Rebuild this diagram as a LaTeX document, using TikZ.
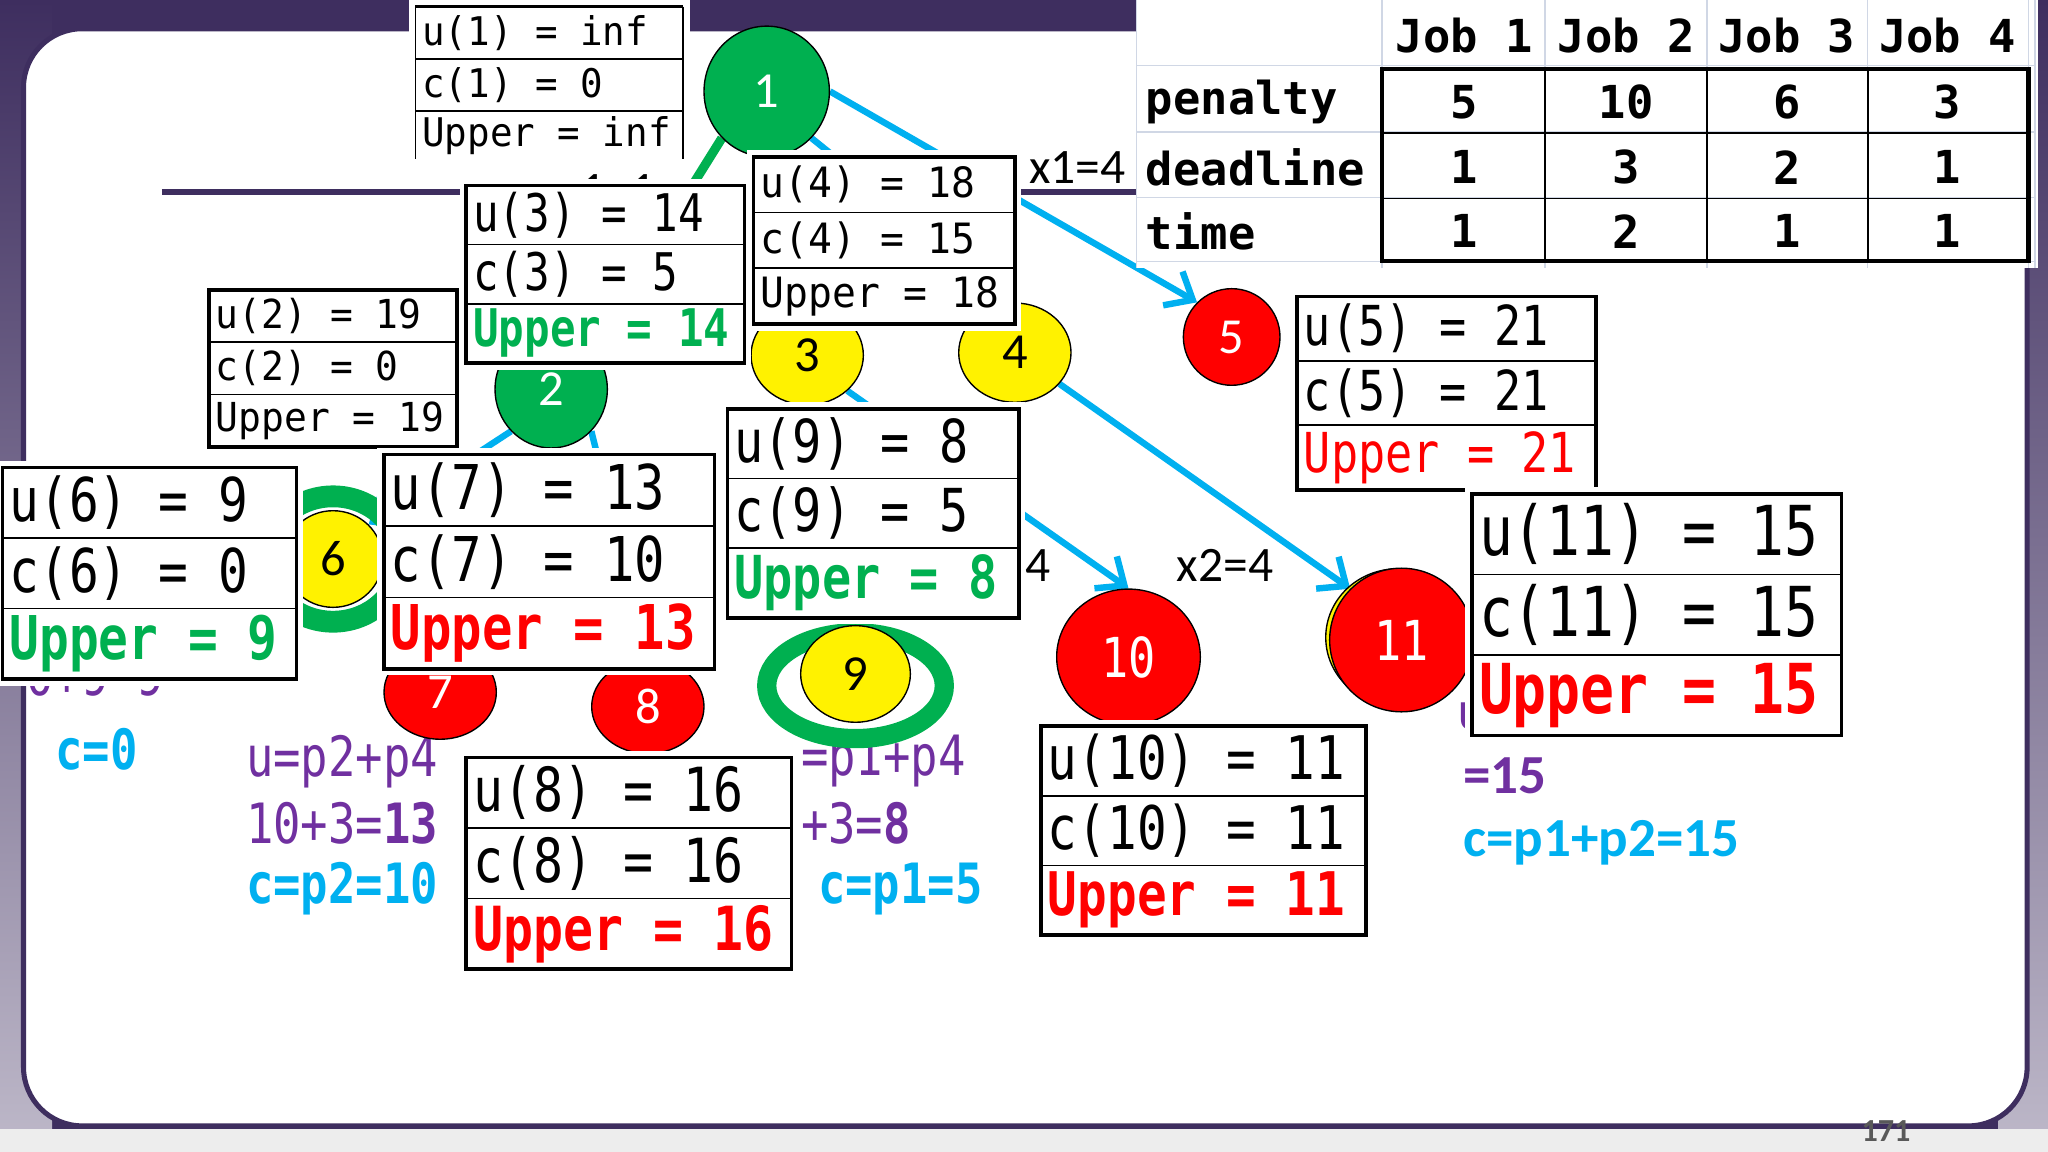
\documentclass[tikz,border=0pt]{standalone}
\usepackage{fontspec}
\setmainfont{Carlito}
\newfontfamily\cellfont[FakeStretch=0.82]{DejaVu Sans Mono}
\newfontfamily\cellwide[FakeStretch=0.95]{DejaVu Sans Mono}
\newfontfamily\jobfont{DejaVu Sans Mono}
\usepackage{tikz}
\usetikzlibrary{arrows.meta,positioning,shapes.geometric}
\definecolor{slide}{HTML}{3E2E5F}
\definecolor{okgreen}{HTML}{00B050}
\definecolor{skyblue}{HTML}{00B0F0}
\definecolor{plum}{HTML}{7030A0}
\definecolor{gridgray}{HTML}{D0D7E5}
\pgfdeclarelayer{slidelayer}
\pgfdeclarelayer{edgelayer}
\pgfdeclarelayer{nodelayer}
\pgfsetlayers{slidelayer,edgelayer,nodelayer,main}
\newcommand{\cellsize}[1]{\cellfont\fontsize{#1}{#1}\selectfont}
\newcommand{\cellwsize}[1]{\cellwide\fontsize{#1}{#1}\selectfont}
% #1 name, (#2,#3) top left, #4 width, #5 row height, #6 font, #7-#9 rows
\newcommand{\costbox}[9]{%
\fill[white] (#2-5,#3-5) rectangle (#2+#4+5,#3+3*#5+5);
\draw[rowline] (#2,#3+#5) -- (#2+#4,#3+#5) (#2,#3+2*#5) -- (#2+#4,#3+2*#5);
\draw[boxframe] (#2,#3) rectangle (#2+#4,#3+3*#5);
\node[celltext,font={#6}] (#1u) at (#2+5,#3+0.5*#5) {#7};
\node[celltext,font={#6}] (#1c) at (#2+5,#3+1.5*#5) {#8};
\node[celltext,font={#6}] (#1up) at (#2+5,#3+2.5*#5) {#9};
}
\tikzset{
job/.style={ellipse,draw=black,line width=0.6pt,inner sep=0pt,font=\fontsize{22}{22}\selectfont},
greenjob/.style={job,fill=okgreen,text=white},
yellowjob/.style={job,fill=yellow,text=black},
redjob/.style={job,fill=red,text=white},
ring/.style={ellipse,draw=okgreen,inner sep=0pt},
treeedge/.style={draw=skyblue,line width=2.8pt,-{Straight Barb[length=10pt,width=17pt]}},
pathedge/.style={treeedge,draw=okgreen,line width=4pt},
rowline/.style={line width=0.7pt},
boxframe/.style={line width=1.6pt},
celltext/.style={anchor=west,inner sep=0pt},
note/.style={anchor=west,inner sep=0pt,font=\cellsize{24.2}},
sansnote/.style={anchor=west,inner sep=0pt,font=\bfseries\fontsize{24}{24}\selectfont},
elabel/.style={inner sep=0pt,font=\fontsize{21.6}{21.6}\selectfont},
gridline/.style={draw=gridgray,line width=0.6pt},
jobtext/.style={inner sep=0pt,font=\jobfont\bfseries\fontsize{19.8}{19.8}\selectfont}
}

\begin{document}
\begin{tikzpicture}[x=0.02cm,y=-0.02cm]
\useasboundingbox (0,0) rectangle (1568,882);

% slide
\begin{pgfonlayer}{slidelayer}
\fill[slide] (0,0) rectangle (1568,882);
\shade[top color=slide,bottom color=slide!35!white] (0,0) rectangle (40,866);
\shade[top color=slide,bottom color=slide!35!white] (1530,0) rectangle (1568,866);
\fill[black!7] (0,864) rectangle (1568,882);
\draw[slide,line width=2.2pt,fill=white,rounded corners=0.9cm] (18,22) rectangle (1552,862);
\draw[slide,line width=2.8pt] (124,147) -- (870,147);
\end{pgfonlayer}

% tree
\begin{pgfonlayer}{nodelayer}
\node[ring,minimum width=2.08cm,minimum height=1.92cm,line width=9.5pt] (ring6) at (255,428) {};
\node[ring,minimum width=2.72cm,minimum height=1.62cm,line width=8.4pt] (ring9) at (655,525) {};
\node[greenjob,minimum width=1.92cm,minimum height=2cm] (n1) at (587,70) {1};
\node[greenjob,minimum width=1.72cm,minimum height=1.8cm] (n2) at (422,298) {2};
\node[yellowjob,minimum width=1.72cm,minimum height=1.52cm] (n3) at (618,272) {3};
\node[yellowjob,minimum width=1.72cm,minimum height=1.52cm] (n4) at (777,270) {4};
\node[redjob,minimum width=1.48cm,minimum height=1.48cm] (n5) at (943,258) {5};
\node[yellowjob,minimum width=1.52cm,minimum height=1.48cm] (n6) at (255,428) {6};
\node[redjob,minimum width=1.72cm,minimum height=1.44cm] (n7) at (337,530) {7};
\node[redjob,minimum width=1.72cm,minimum height=1.44cm] (n8) at (496,541) {8};
\node[yellowjob,minimum width=1.68cm,minimum height=1.48cm] (n9) at (655,516) {9};
\node[redjob,minimum width=2.2cm,minimum height=2.08cm,font=\cellsize{24}] (n10) at (864,503) {10};
\node[yellowjob,minimum width=2.2cm,minimum height=2.1cm] (n11old) at (1070,488) {};
\node[redjob,minimum width=2.2cm,minimum height=2.2cm,font=\cellsize{24}] (n11) at (1073,490) {11};
\end{pgfonlayer}

\begin{pgfonlayer}{edgelayer}
\draw[pathedge] (n1.south west) -- (n2.north east);
\draw[treeedge] (n1.south) -- (n3.north);
\draw[treeedge] (n1.south east) -- (n4.north);
\draw[treeedge] (n1.east) -- (n5.north west);
\draw[treeedge] (n2.south west) -- (n6.north east);
\draw[treeedge] (n2.south) -- (n7.north);
\draw[treeedge] (n2.south east) -- (n8.north);
\draw[treeedge] (n3.south) -- (n9.north);
\draw[treeedge] (n3.south east) -- (n10.north);
\draw[treeedge] (n4.-35) -- (n11.north west);
\node[elabel] (x11) at (465,146) {x1=1};
\node[elabel] (x14) at (825,128) {x1=4};
\node[elabel,anchor=east] (x24a) at (805,433) {x2=4};
\node[elabel] (x24b) at (938,433) {x2=4};
% bounds
\node[note,text=plum] (u6) at (20,517) {0+9=9};
\node[note,text=skyblue,font=\cellsize{24.2}\bfseries] (c6) at (42,574) {c=0};
\node[note,text=plum] (u7) at (188,583) {u=p2+p4};
\node[note,text=plum] (u7sum) at (188,630) {10+3=\textbf{13}};
\node[note,text=skyblue,font=\cellsize{24.2}\bfseries] (c7) at (188,680) {c=p2=10};
\node[note,text=plum] (u9) at (613,583) {=p1+p4};
\node[note,text=plum] (u9sum) at (613,630) {+3=\textbf{8}};
\node[note,text=skyblue,font=\cellsize{24.2}\bfseries] (c9) at (626,681) {c=p1=5};
\node[sansnote,text=plum] (u11) at (1116,548) {u=p1+p2};
\node[sansnote,text=plum] (u11sum) at (1120,594) {=15};
\node[sansnote,text=skyblue] (c11) at (1120,645) {c=p1+p2=15};
\end{pgfonlayer}

% cost boxes
\fill[white] (313,0) rectangle (528,122);
\draw[rowline] (318,45) -- (523,45) (318,85) -- (523,85) (318,5) -- (318,122) (523,5) -- (523,122);
\draw[boxframe] (318,5) -- (523,5);
\node[celltext,font=\cellwsize{17.2}] (b1u) at (323,25) {u(1) = inf};
\node[celltext,font=\cellwsize{17.2}] (b1c) at (323,65) {c(1) = 0};
\node[celltext,font=\cellwsize{17.2}] (b1up) at (323,104) {Upper = inf};
\costbox{b2}{160}{222}{190}{40}{\cellwsize{17.4}}{u(2) = 19}{c(2) = 0}{Upper = 19}
\costbox{b3}{357}{142}{213}{45.3}{\cellsize{22.6}}{u(3) = 14}{c(3) = 5}{\textcolor{okgreen}{\bfseries Upper = 14}}
\costbox{b4}{577}{120}{200}{42.7}{\cellwsize{18.2}}{u(4) = 18}{c(4) = 15}{Upper = 18}
\costbox{b5}{993}{227}{229}{49.3}{\cellsize{24}}{u(5) = 21}{c(5) = 21}{\textcolor{red}{Upper = 21}}
\costbox{b6}{2}{358}{225}{54}{\cellsize{26.3}}{u(6) = 9}{c(6) = 0}{\textcolor{okgreen}{\bfseries Upper = 9}}
\costbox{b7}{294}{348}{253}{54.7}{\cellsize{26.9}}{u(7) = 13}{c(7) = 10}{\textcolor{red}{\bfseries Upper = 13}}
\costbox{b8}{357}{580}{249}{54}{\cellsize{26.5}}{u(8) = 16}{c(8) = 16}{\textcolor{red}{\bfseries Upper = 16}}
\costbox{b9}{557}{313}{223}{53.3}{\cellsize{25.8}}{u(9) = 8}{c(9) = 5}{\textcolor{okgreen}{\bfseries Upper = 8}}
\costbox{b10}{797}{556}{249}{53.3}{\cellsize{26.2}}{u(10) = 11}{c(10) = 11}{\textcolor{red}{\bfseries Upper = 11}}
\costbox{b11}{1127}{378}{283}{61.7}{\cellsize{30}}{u(11) = 15}{c(11) = 15}{\textcolor{red}{\bfseries Upper = 15}}

% job table
\fill[white] (870,0) rectangle (1560,205);
\foreach \y in {50,101,151,200} \draw[gridline] (870,\y) -- (1558,\y);
\foreach \x in {870,1058,1183,1307,1430,1553,1558} \draw[gridline] (\x,0) -- (\x,205);
\draw[rowline] (1058,102) -- (1553,102) (1058,152) -- (1553,152);
\foreach \x in {1183,1307,1430} \draw[rowline] (\x,53) -- (\x,200);
\draw[boxframe,line width=1.8pt] (1058,53) rectangle (1553,200);
\node[jobtext,anchor=west] (lpen) at (877,78) {penalty};
\node[jobtext,anchor=west] (lded) at (877,128) {deadline};
\node[jobtext,anchor=west] (ltime) at (877,177) {time};
\foreach \x/\p/\d/\t [count=\j] in {1121/5/1/1,1245/10/3/2,1368/6/2/1,1491/3/1/1} {
\node[jobtext] (job\j) at (\x,27) {Job \j};
\node[jobtext] (pen\j) at (\x,78) {\p};
\node[jobtext] (ded\j) at (\x,128) {\d};
\node[jobtext] (time\j) at (\x,177) {\t};
}

\node[font=\bfseries\fontsize{14}{14}\selectfont,text=black!65] (pageno) at (1444,866) {171};
\end{tikzpicture}
\end{document}
